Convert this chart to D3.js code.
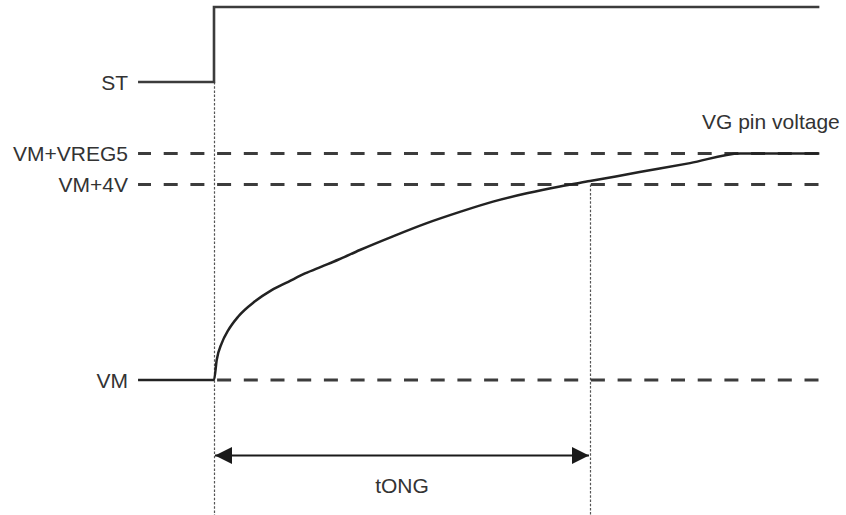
<!DOCTYPE html>
<html>
<head>
<meta charset="utf-8">
<script src="https://cdn.jsdelivr.net/npm/d3@7"></script>
<style>
  body { margin: 0; background: #fff; }
  text { font-family: "Liberation Sans", Arial, sans-serif; fill: #333; }
</style>
</head>
<body>
<div class="timing"></div>
<script>
// time in arbitrary units: ST rises at 0, VG reaches VM+4V at tONG
var tStart = -1.01, tRise = 0, tOng = 5, tEnd = 8.05;

// voltage levels relative to VM (not to scale)
var levelNames = ["VM", "VM+4V", "VM+VREG5"];
var levelValues = [0, 4, 5];
// dashed guides start at the left, except VM which is solid until ST rises
var levelDashFrom = [tRise, tStart, tStart];

// ST logic signal
var stTimes = [tStart, tRise, tRise, tEnd];
var stValues = [0, 0, 1, 1];

// VG pin voltage
var vgTimes = [tStart, 0, 0.036, 0.102, 0.19, 0.323, 0.545, 0.767, 0.988, 1.21, 1.43, 1.65, 1.94, 2.38, 2.83, 3.27, 3.71, 4.16, 4.60, 5.0, 5.66, 6.33, 7.0, tEnd];
var vgValues = [0, 0, 0.41, 0.75, 1.02, 1.30, 1.61, 1.84, 2.01, 2.18, 2.32, 2.46, 2.66, 2.94, 3.21, 3.44, 3.65, 3.82, 3.96, 4.11, 4.40, 4.69, 5.0, 5.0];

var svg = d3.select(".timing").append("svg")
  .attr("width", 846)
  .attr("height", 515);

var x = d3.scaleLinear().domain([tRise, tOng]).range([214, 590]);
var y = d3.scaleLinear().domain(levelValues).range([380, 184.5, 153.5]);
var yst = d3.scaleLinear().domain([0, 1]).range([82, 7]);

var labelX = 128;
var lineStart = 137;
var dashPeriod = 26.7;

// dotted time markers
[[tRise, yst(0)], [tOng, y(4)]].forEach(function(m) {
  svg.append("line")
    .attr("x1", x(m[0]) + 0.5).attr("x2", x(m[0]) + 0.5)
    .attr("y1", m[1]).attr("y2", 515)
    .attr("stroke", "#555")
    .attr("stroke-width", 1.2)
    .attr("stroke-dasharray", "2.5,1.7");
});

// dashed level lines
svg.selectAll("line.level").data(levelValues)
  .enter().append("line")
  .attr("class", "level")
  .attr("x1", function(d, i) { return Math.max(lineStart, x(levelDashFrom[i])); })
  .attr("x2", x(tEnd))
  .attr("y1", function(d) { return y(d); })
  .attr("y2", function(d) { return y(d); })
  .attr("stroke", "#3c3c3c")
  .attr("stroke-width", 2.8)
  .attr("stroke-dasharray", "14,12.7")
  .attr("stroke-dashoffset", function(d, i) {
    return (Math.max(lineStart, x(levelDashFrom[i])) - lineStart) % dashPeriod;
  });

// level labels
svg.selectAll("text.level").data(levelValues)
  .enter().append("text")
  .attr("class", "level")
  .attr("x", labelX)
  .attr("y", function(d) { return y(d) + 7.5; })
  .attr("text-anchor", "end")
  .attr("font-size", "21px")
  .text(function(d, i) { return levelNames[i]; });

// ST
var stLine = d3.line()
  .x(function(d, i) { return x(stTimes[i]); })
  .y(function(d) { return yst(d); });
svg.append("path")
  .datum(stValues)
  .attr("d", stLine)
  .attr("fill", "none")
  .attr("stroke", "#3c3c3c")
  .attr("stroke-width", 2.6);
svg.append("text")
  .attr("x", labelX)
  .attr("y", yst(0) + 7.5)
  .attr("text-anchor", "end")
  .attr("font-size", "21px")
  .text("ST");

// VG
var vgLine = d3.line()
  .x(function(d, i) { return x(vgTimes[i]); })
  .y(function(d) { return y(d); })
  .curve(d3.curveMonotoneX);
svg.append("path")
  .datum(vgValues)
  .attr("d", vgLine)
  .attr("fill", "none")
  .attr("stroke", "#222")
  .attr("stroke-width", 2.5);
svg.append("text")
  .attr("x", 702)
  .attr("y", 129)
  .attr("font-size", "21px")
  .text("VG pin voltage");

// tONG arrow
var defs = svg.append("defs");
defs.append("marker")
  .attr("id", "head")
  .attr("viewBox", "0 0 17 17")
  .attr("refX", 17).attr("refY", 8.5)
  .attr("markerWidth", 17).attr("markerHeight", 17)
  .attr("markerUnits", "userSpaceOnUse")
  .attr("orient", "auto-start-reverse")
  .append("path")
  .attr("d", "M0,0L17,8.5L0,17Z")
  .attr("fill", "#1a1a1a");

svg.append("line")
  .attr("x1", x(tRise) + 1).attr("x2", x(tOng) - 1)
  .attr("y1", 455.5).attr("y2", 455.5)
  .attr("stroke", "#1a1a1a")
  .attr("stroke-width", 2.2)
  .attr("marker-start", "url(#head)")
  .attr("marker-end", "url(#head)");

svg.append("text")
  .attr("x", (x(tRise) + x(tOng)) / 2)
  .attr("y", 493)
  .attr("text-anchor", "middle")
  .attr("font-size", "21px")
  .text("tONG");
</script>
</body>
</html>
